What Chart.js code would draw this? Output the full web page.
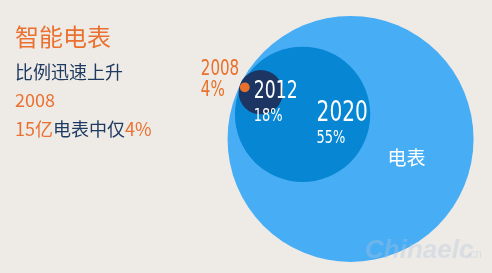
<!DOCTYPE html>
<html>
<head>
<meta charset="utf-8">
<script src="https://cdn.jsdelivr.net/npm/chart.js@4"></script>
<style>
  html, body { margin: 0; padding: 0; background: #eeeae6; }
  #wrap { position: relative; width: 492px; height: 273px; overflow: hidden; }
  canvas { position: absolute; left: 0; top: 0; }
  .t { position: absolute; left: 15px; font-family: "Noto Sans CJK SC", sans-serif; white-space: nowrap; line-height: 1; }
  .o { color: #ea7130; }
  .n { color: #1e3a60; }
</style>
</head>
<body>
<div id="wrap">
  <canvas id="bubbleChart" width="492" height="273"></canvas>
  <div class="t o" style="top:24px;font-size:24px;">智能电表</div>
  <div class="t n" style="top:62px;font-size:18px;">比例迅速上升</div>
  <div class="t o" style="top:90px;font-size:18px;">2008</div>
  <div class="t" style="top:119px;font-size:18px;"><span class="o">15亿</span><span class="n">电表中仅</span><span class="o">4%</span></div>
</div>
<script>
// Share of smart meters by year (bubble radius follows the share)
const years = ['电表', '2020', '2012', '2008'];
const shares = [100, 55, 18, 4];
// bubble centres in chart units
const centreX = [285, 246, 212, 199];
const centreY = [109, 129, 147, 151];
const colours = ['#47adf5', '#0787d3', '#1c3563', '#e8702a'];

// draw the year / percent labels next to each bubble
const labelPlugin = {
    id: 'bubbleLabels',
    afterDatasetsDraw(chart) {
        const ctx = chart.ctx;
        const pts = chart.getDatasetMeta(0).data;
        const narrow = '"Liberation Sans Narrow", "DejaVu Sans Condensed", sans-serif';

        function num(text, x, y, size, colour) {
            ctx.save();
            ctx.translate(x, y);
            ctx.scale(0.8, 1);
            ctx.font = size + 'px ' + narrow;
            ctx.fillStyle = colour;
            ctx.textAlign = 'left';
            ctx.textBaseline = 'middle';
            ctx.fillText(text, 0, 0);
            ctx.restore();
        }

        // big circle: plain label
        ctx.save();
        ctx.font = '19px "Noto Sans CJK SC", sans-serif';
        ctx.fillStyle = '#ffffff';
        ctx.textAlign = 'center';
        ctx.textBaseline = 'middle';
        ctx.fillText(years[0], pts[0].x + 56, pts[0].y + 19);
        ctx.restore();

        num(years[1], pts[1].x + 14, pts[1].y - 1, 28, '#ffffff');
        num(shares[1] + '%', pts[1].x + 14, pts[1].y + 24, 18, '#ffffff');
        num(years[2], pts[2].x - 7, pts[2].y, 24, '#ffffff');
        num(shares[2] + '%', pts[2].x - 7, pts[2].y + 24, 18, '#ffffff');
        num(years[3], pts[3].x - 44, pts[3].y - 18, 21, colours[3]);
        num(shares[3] + '%', pts[3].x - 44, pts[3].y + 3, 21, colours[3]);

        // faint watermark
        ctx.save();
        ctx.font = 'italic bold 26px "Liberation Sans", sans-serif';
        ctx.fillStyle = 'rgba(175,198,220,0.35)';
        ctx.textBaseline = 'alphabetic';
        ctx.fillText('Chinaelc', 365, 258);
        ctx.font = '12px "Liberation Sans", sans-serif';
        ctx.fillText('.cn', 466, 258);
        ctx.restore();
    }
};

function renderChart() {
    const ctx = document.getElementById('bubbleChart').getContext('2d');
    const chart = new Chart(ctx, {
        type: 'bubble',
        data: {
            labels: years,
            datasets: [{
                data: years.map((y, i) => ({ x: centreX[i], y: centreY[i], r: 0 })),
                backgroundColor: colours,
                borderWidth: 0,
                hoverRadius: 0,
                clip: false
            }]
        },
        options: {
            responsive: false,
            animation: false,
            events: [],
            layout: { padding: 0, autoPadding: false },
            plugins: { legend: { display: false }, tooltip: { enabled: false } },
            scales: {
                x: { type: 'linear', min: 0, max: 400, display: false },
                y: { type: 'linear', min: 0, max: 222, display: false }
            }
        },
        plugins: [labelPlugin]
    });

    // radius: one x-axis unit per percent, measured on the laid-out scale
    const xs = chart.scales.x;
    chart.data.datasets[0].data.forEach((d, i) => {
        d.r = xs.getPixelForValue(shares[i]) - xs.getPixelForValue(0);
    });
    chart.update();
}

renderChart();
</script>
</body>
</html>
